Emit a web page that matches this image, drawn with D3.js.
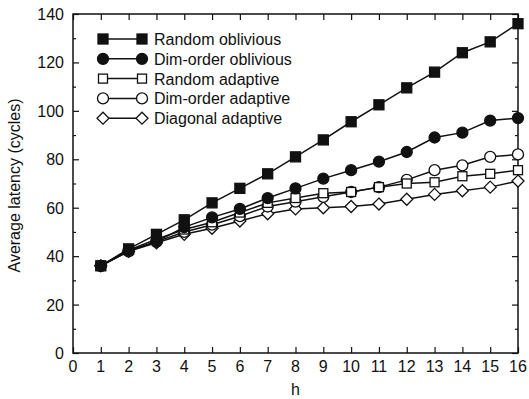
<!DOCTYPE html>
<html>
<head>
<meta charset="utf-8">
<script src="https://cdn.jsdelivr.net/npm/d3@7"></script>
<style>
  body { margin: 0; background: #fff; }
  svg { font-family: "Liberation Sans", Arial, sans-serif; }
</style>
</head>
<body>
<svg id="chart" width="529" height="399"></svg>
<script>
// data
const hValues = [1, 2, 3, 4, 5, 6, 7, 8, 9, 10, 11, 12, 13, 14, 15, 16];
const randomOblivious = [36, 43, 49, 55, 62, 68, 74, 81, 88, 95.5, 102.5, 109.5, 116, 124, 128.5, 136];
const dimOrderOblivious = [36, 42.5, 46, 52, 56, 59.5, 64, 68, 72, 75.5, 79, 83, 89, 91, 96, 97];
const randomAdaptive = [36, 42.5, 47, 51, 54, 58, 62, 64, 66, 66.5, 68.5, 70, 70.5, 73, 74, 75.5];
const dimOrderAdaptive = [36, 42, 46, 50, 53, 56.5, 60.5, 62.5, 64.5, 66.5, 68.5, 71.5, 75.5, 77.5, 81, 82];
const diagonalAdaptive = [36, 42, 45.5, 49, 51.5, 54.5, 57.5, 59.5, 60, 60.5, 61.5, 63.5, 65.5, 67, 68.5, 71];
const seriesNames = ['Random oblivious', 'Dim-order oblivious', 'Random adaptive', 'Dim-order adaptive', 'Diagonal adaptive'];
const xTicks = d3.range(0, 17);
const yTicks = [0, 20, 40, 60, 80, 100, 120, 140];
const yMinor = d3.range(0, 141, 10);

const series = [
  { name: seriesNames[0], values: randomOblivious, shape: 'square', fill: true },
  { name: seriesNames[1], values: dimOrderOblivious, shape: 'circle', fill: true },
  { name: seriesNames[2], values: randomAdaptive, shape: 'square', fill: false },
  { name: seriesNames[3], values: dimOrderAdaptive, shape: 'circle', fill: false },
  { name: seriesNames[4], values: diagonalAdaptive, shape: 'diamond', fill: false }
];

const svg = d3.select('#chart'),
    margin = { top: 14, right: 11, bottom: 46, left: 73 },
    width = +svg.attr('width') - margin.left - margin.right,
    height = +svg.attr('height') - margin.top - margin.bottom;

const x = d3.scaleLinear().domain([0, 16]).range([0, width]);
const y = d3.scaleLinear().domain([0, 140]).range([height, 0]);

const g = svg.append('g')
    .attr('transform', 'translate(' + margin.left + ',' + margin.top + ')');

const ink = '#111';

// inward ticks on all four sides
g.append('g').call(d3.axisBottom(x).tickValues(xTicks).tickSize(-6).tickFormat(''))
    .attr('transform', 'translate(0,' + height + ')');
g.append('g').call(d3.axisTop(x).tickValues(xTicks).tickSize(-6).tickFormat(''));
g.append('g').call(d3.axisLeft(y).tickValues(yMinor).tickSize(-6).tickFormat(''));
g.append('g').call(d3.axisRight(y).tickValues(yMinor).tickSize(-6).tickFormat(''))
    .attr('transform', 'translate(' + width + ',0)');
g.selectAll('.domain').remove();
g.selectAll('.tick line').attr('stroke', ink).attr('stroke-width', 1.2);

// minor ticks are shorter
g.selectAll('.tick line').filter(function (d) { return d % 20 === 10 && d <= 140 && this.getAttribute('x2'); })
    .attr('x2', function () { return +this.getAttribute('x2') > 0 ? 3 : -3; });

// frame
g.append('rect')
    .attr('width', width).attr('height', height)
    .attr('fill', 'none').attr('stroke', ink).attr('stroke-width', 1.5);

// tick labels
g.selectAll('.xlab').data(xTicks).enter().append('text')
    .attr('x', (d) => x(d)).attr('y', height + 19)
    .attr('text-anchor', 'middle').attr('font-size', 16).attr('fill', ink)
    .text((d) => d);
g.selectAll('.ylab').data(yTicks).enter().append('text')
    .attr('x', -9).attr('y', (d) => y(d) + 6)
    .attr('text-anchor', 'end').attr('font-size', 16).attr('fill', ink)
    .text((d) => d);

// axis titles
svg.append('text')
    .attr('x', margin.left + width / 2).attr('y', 395)
    .attr('text-anchor', 'middle').attr('font-size', 16).attr('fill', ink)
    .text('h');
svg.append('text')
    .attr('transform', 'translate(20,' + (margin.top + height / 2 + 2) + ') rotate(-90)')
    .attr('text-anchor', 'middle').attr('font-size', 16).attr('fill', ink)
    .text('Average latency (cycles)');

function drawMarker(sel, s) {
  if (s.shape === 'square') {
    const r = s.fill ? 5 : 4.5;
    sel.append('rect').attr('x', -r).attr('y', -r).attr('width', 2 * r).attr('height', 2 * r);
  } else if (s.shape === 'circle') {
    sel.append('circle').attr('r', 5.5);
  } else {
    sel.append('path').attr('d', 'M0,-6L6,0L0,6L-6,0Z');
  }
  sel.selectAll('*')
      .attr('fill', s.fill ? ink : '#fff')
      .attr('stroke', ink).attr('stroke-width', 1.3);
}

const line = d3.line().x((d) => x(d[0])).y((d) => y(d[1]));

// draw from the bottom series up, so the filled ones sit on top
series.slice().reverse().forEach((s) => {
  const pts = hValues.map((h, i) => [h, s.values[i]]);
  g.append('path').datum(pts)
      .attr('d', line).attr('fill', 'none')
      .attr('stroke', ink).attr('stroke-width', 1.5);
  g.selectAll(null).data(pts).enter().append('g')
      .attr('transform', (d) => 'translate(' + x(d[0]) + ',' + y(d[1]) + ')')
      .each(function () { drawMarker(d3.select(this), s); });
});

// legend
const legend = svg.append('g').attr('transform', 'translate(103,39)');
series.forEach((s, i) => {
  const row = legend.append('g').attr('transform', 'translate(0,' + i * 19.8 + ')');
  row.append('line').attr('x1', 0).attr('x2', 39)
      .attr('stroke', ink).attr('stroke-width', 1.5);
  drawMarker(row.append('g'), s);
  drawMarker(row.append('g').attr('transform', 'translate(39,0)'), s);
  row.append('text').attr('x', 51).attr('y', 6)
      .attr('font-size', 16).attr('fill', ink)
      .text(s.name);
});
</script>
</body>
</html>
